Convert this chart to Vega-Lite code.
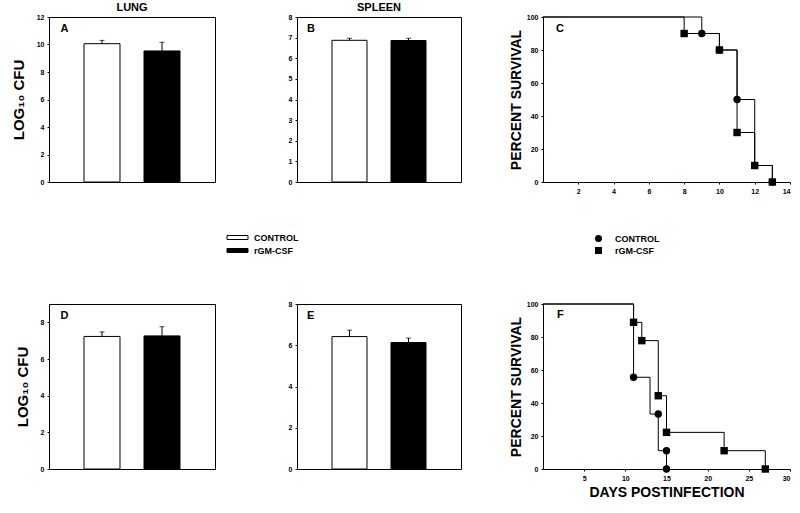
{
  "$schema": "https://vega.github.io/schema/vega-lite/v6.json",
  "background": "white",
  "padding": {"left": 10, "top": 1, "right": 5, "bottom": 5},
  "datasets": {
    "bars": [
      {"panel": "A", "group": "CONTROL", "value": 10.06, "upper": 10.3},
      {"panel": "A", "group": "rGM-CSF", "value": 9.53, "upper": 10.16},
      {"panel": "B", "group": "CONTROL", "value": 6.87, "upper": 6.97},
      {"panel": "B", "group": "rGM-CSF", "value": 6.86, "upper": 6.97},
      {"panel": "D", "group": "CONTROL", "value": 7.23, "upper": 7.48},
      {"panel": "D", "group": "rGM-CSF", "value": 7.26, "upper": 7.76},
      {"panel": "E", "group": "CONTROL", "value": 6.42, "upper": 6.73},
      {"panel": "E", "group": "rGM-CSF", "value": 6.13, "upper": 6.35}
    ],
    "lines": [
      {"panel": "C", "group": "CONTROL", "day": 0, "pct": 100},
      {"panel": "C", "group": "CONTROL", "day": 9, "pct": 90},
      {"panel": "C", "group": "CONTROL", "day": 10, "pct": 80},
      {"panel": "C", "group": "CONTROL", "day": 11, "pct": 50},
      {"panel": "C", "group": "CONTROL", "day": 12, "pct": 10},
      {"panel": "C", "group": "CONTROL", "day": 13, "pct": 0},
      {"panel": "C", "group": "rGM-CSF", "day": 0, "pct": 100},
      {"panel": "C", "group": "rGM-CSF", "day": 8, "pct": 90},
      {"panel": "C", "group": "rGM-CSF", "day": 10, "pct": 80},
      {"panel": "C", "group": "rGM-CSF", "day": 11, "pct": 30},
      {"panel": "C", "group": "rGM-CSF", "day": 12, "pct": 10},
      {"panel": "C", "group": "rGM-CSF", "day": 13, "pct": 0},
      {"panel": "F", "group": "CONTROL", "day": 0, "pct": 100},
      {"panel": "F", "group": "CONTROL", "day": 11, "pct": 55.6},
      {"panel": "F", "group": "CONTROL", "day": 13, "pct": 33.3},
      {"panel": "F", "group": "CONTROL", "day": 14, "pct": 11.1},
      {"panel": "F", "group": "CONTROL", "day": 15, "pct": 0},
      {"panel": "F", "group": "rGM-CSF", "day": 0, "pct": 100},
      {"panel": "F", "group": "rGM-CSF", "day": 11, "pct": 88.9},
      {"panel": "F", "group": "rGM-CSF", "day": 12, "pct": 77.8},
      {"panel": "F", "group": "rGM-CSF", "day": 14, "pct": 44.4},
      {"panel": "F", "group": "rGM-CSF", "day": 15, "pct": 22.2},
      {"panel": "F", "group": "rGM-CSF", "day": 22, "pct": 11.1},
      {"panel": "F", "group": "rGM-CSF", "day": 27, "pct": 0}
    ],
    "pts": [
      {"panel": "C", "group": "CONTROL", "day": 9, "pct": 90},
      {"panel": "C", "group": "CONTROL", "day": 10, "pct": 80},
      {"panel": "C", "group": "CONTROL", "day": 11, "pct": 50},
      {"panel": "C", "group": "CONTROL", "day": 12, "pct": 10},
      {"panel": "C", "group": "CONTROL", "day": 13, "pct": 0},
      {"panel": "C", "group": "rGM-CSF", "day": 8, "pct": 90},
      {"panel": "C", "group": "rGM-CSF", "day": 10, "pct": 80},
      {"panel": "C", "group": "rGM-CSF", "day": 11, "pct": 30},
      {"panel": "C", "group": "rGM-CSF", "day": 12, "pct": 10},
      {"panel": "C", "group": "rGM-CSF", "day": 13, "pct": 0},
      {"panel": "F", "group": "CONTROL", "day": 11, "pct": 55.6},
      {"panel": "F", "group": "CONTROL", "day": 14, "pct": 33.3},
      {"panel": "F", "group": "CONTROL", "day": 15, "pct": 11.1},
      {"panel": "F", "group": "CONTROL", "day": 15, "pct": 0},
      {"panel": "F", "group": "rGM-CSF", "day": 11, "pct": 88.9},
      {"panel": "F", "group": "rGM-CSF", "day": 12, "pct": 77.8},
      {"panel": "F", "group": "rGM-CSF", "day": 14, "pct": 44.4},
      {"panel": "F", "group": "rGM-CSF", "day": 15, "pct": 22.2},
      {"panel": "F", "group": "rGM-CSF", "day": 22, "pct": 11.1},
      {"panel": "F", "group": "rGM-CSF", "day": 27, "pct": 0}
    ]
  },
  "columns": 3,
  "spacing": {"row": 122, "column": 82},
  "bounds": "flush",
  "align": "each",
  "concat": [
    {
      "width": 166, "height": 165,
      "title": {"text": "LUNG", "fontSize": 11, "font": "Liberation Sans", "fontWeight": "bold", "offset": 0, "anchor": "middle", "color": "black"},
      "layer": [
        {
          "data": {"name": "bars"},
          "transform": [{"filter": "datum.panel === 'A'"}],
          "layer": [
            {"mark": {"type": "bar", "stroke": "black", "strokeWidth": 1},
             "encoding": {
               "x": {"field": "group", "type": "nominal", "scale": {"domain": ["CONTROL", "rGM-CSF"], "paddingInner": 0.4, "paddingOuter": 0.583}, "axis": null},
               "y": {"field": "value", "type": "quantitative", "title": "LOG₁₀ CFU", "scale": {"domain": [0, 12], "nice": false},
                     "axis": {"values": [0, 2, 4, 6, 8, 10, 12], "format": "d", "tickCount": 30, "labelOverlap": false, "titleFontSize": 15, "titleBaseline": "alphabetic", "titlePadding": 13}},
               "fill": {"field": "group", "type": "nominal", "scale": {"domain": ["CONTROL", "rGM-CSF"], "range": ["white", "black"]},
                        "legend": {"orient": "none", "legendX": 184, "legendY": 216, "title": null,
                                   "symbolType": "M-2.625,-0.5H2.625V0.5H-2.625Z", "symbolSize": 64,
                                   "symbolStrokeColor": "black", "symbolStrokeWidth": 1,
                                   "labelFont": "Liberation Sans", "labelFontWeight": "bold", "labelFontSize": 9, "labelColor": "black",
                                   "labelOffset": 12, "rowPadding": 3}}
             }},
            {"mark": {"type": "rule", "color": "black", "strokeWidth": 1},
             "encoding": {
               "x": {"field": "group", "type": "nominal", "scale": {"domain": ["CONTROL", "rGM-CSF"], "paddingInner": 0.4, "paddingOuter": 0.583}, "axis": null},
               "y": {"field": "value", "type": "quantitative", "title": "LOG₁₀ CFU"},
               "y2": {"field": "upper"}
             }},
            {"mark": {"type": "tick", "color": "black", "size": 5, "thickness": 1, "orient": "horizontal"},
             "encoding": {
               "x": {"field": "group", "type": "nominal", "scale": {"domain": ["CONTROL", "rGM-CSF"], "paddingInner": 0.4, "paddingOuter": 0.583}, "axis": null},
               "y": {"field": "upper", "type": "quantitative", "title": "LOG₁₀ CFU"}
             }}
          ]
        },
        {
          "data": {"values": [{"letter": "A"}]},
          "mark": {"type": "text", "align": "left", "baseline": "alphabetic", "fontSize": 11, "fontWeight": "bold", "font": "Liberation Sans", "color": "black"},
          "encoding": {
            "x": {"datum": 0.07, "type": "quantitative", "scale": {"domain": [0, 1]}, "axis": null},
            "y": {"datum": 10.9, "type": "quantitative", "title": "LOG₁₀ CFU"},
            "text": {"field": "letter"}
          }
        }
      ],
      "resolve": {"scale": {"x": "independent"}}
    },
    {
      "width": 164, "height": 165,
      "title": {"text": "SPLEEN", "fontSize": 11, "font": "Liberation Sans", "fontWeight": "bold", "offset": 0, "anchor": "middle", "color": "black"},
      "layer": [
        {
          "data": {"name": "bars"},
          "transform": [{"filter": "datum.panel === 'B'"}],
          "layer": [
            {"mark": {"type": "bar", "stroke": "black", "strokeWidth": 1},
             "encoding": {
               "x": {"field": "group", "type": "nominal", "scale": {"domain": ["CONTROL", "rGM-CSF"], "paddingInner": 0.407, "paddingOuter": 0.593}, "axis": null},
               "y": {"field": "value", "type": "quantitative", "title": null, "scale": {"domain": [0, 8], "nice": false},
                     "axis": {"values": [0, 1, 2, 3, 4, 5, 6, 7, 8], "format": "d", "tickCount": 30, "labelOverlap": false}},
               "fill": {"field": "group", "type": "nominal", "scale": {"domain": ["CONTROL", "rGM-CSF"], "range": ["white", "black"]}, "legend": null}
             }},
            {"mark": {"type": "rule", "color": "black", "strokeWidth": 1},
             "encoding": {
               "x": {"field": "group", "type": "nominal", "scale": {"domain": ["CONTROL", "rGM-CSF"], "paddingInner": 0.407, "paddingOuter": 0.593}, "axis": null},
               "y": {"field": "value", "type": "quantitative", "title": null},
               "y2": {"field": "upper"}
             }},
            {"mark": {"type": "tick", "color": "black", "size": 5, "thickness": 1, "orient": "horizontal"},
             "encoding": {
               "x": {"field": "group", "type": "nominal", "scale": {"domain": ["CONTROL", "rGM-CSF"], "paddingInner": 0.407, "paddingOuter": 0.593}, "axis": null},
               "y": {"field": "upper", "type": "quantitative", "title": null}
             }}
          ]
        },
        {
          "data": {"values": [{"letter": "B"}]},
          "mark": {"type": "text", "align": "left", "baseline": "alphabetic", "fontSize": 11, "fontWeight": "bold", "font": "Liberation Sans", "color": "black"},
          "encoding": {
            "x": {"datum": 0.061, "type": "quantitative", "scale": {"domain": [0, 1]}, "axis": null},
            "y": {"datum": 7.27, "type": "quantitative", "title": null},
            "text": {"field": "letter"}
          }
        }
      ],
      "resolve": {"scale": {"x": "independent"}}
    },
    {
      "width": 247, "height": 165,
      "view": {"stroke": null},
      "layer": [
        {
          "data": {"name": "lines"},
          "transform": [{"filter": "datum.panel === 'C'"}],
          "mark": {"type": "line", "interpolate": "step-after", "color": "black", "strokeWidth": 1},
          "encoding": {
            "x": {"field": "day", "type": "quantitative", "title": null, "scale": {"domain": [0, 14], "nice": false},
                  "axis": {"values": [2, 4, 6, 8, 10, 12, 14], "format": "d", "tickCount": 30, "labelOverlap": false}},
            "y": {"field": "pct", "type": "quantitative", "title": "PERCENT SURVIVAL", "scale": {"domain": [0, 100], "nice": false},
                  "axis": {"values": [0, 20, 40, 60, 80, 100], "format": "d", "tickCount": 30, "labelOverlap": false, "titleFontSize": 14, "titleBaseline": "alphabetic", "titlePadding": 6}},
            "detail": {"field": "group"}
          }
        },
        {
          "data": {"name": "pts"},
          "transform": [{"filter": "datum.panel === 'C'"}],
          "mark": {"type": "point", "filled": true, "color": "black", "size": 55, "opacity": 1},
          "encoding": {
            "x": {"field": "day", "type": "quantitative", "title": null},
            "y": {"field": "pct", "type": "quantitative", "title": "PERCENT SURVIVAL"},
            "shape": {"field": "group", "type": "nominal", "scale": {"domain": ["CONTROL", "rGM-CSF"], "range": ["circle", "square"]},
                      "legend": {"orient": "none", "legendX": 51, "legendY": 217, "title": null, "symbolSize": 49,
                                 "symbolFillColor": "black", "symbolStrokeColor": "black",
                                 "labelFont": "Liberation Sans", "labelFontWeight": "bold", "labelFontSize": 9, "labelColor": "black",
                                 "labelOffset": 12, "rowPadding": -1}}
          }
        },
        {
          "data": {"values": [{"letter": "C"}]},
          "mark": {"type": "text", "align": "left", "baseline": "alphabetic", "fontSize": 11, "fontWeight": "bold", "font": "Liberation Sans", "color": "black"},
          "encoding": {
            "x": {"datum": 0.74, "type": "quantitative"},
            "y": {"datum": 90.9, "type": "quantitative"},
            "text": {"field": "letter"}
          }
        }
      ]
    },
    {
      "width": 166, "height": 165,
      "layer": [
        {
          "data": {"name": "bars"},
          "transform": [{"filter": "datum.panel === 'D'"}],
          "layer": [
            {"mark": {"type": "bar", "stroke": "black", "strokeWidth": 1},
             "encoding": {
               "x": {"field": "group", "type": "nominal", "scale": {"domain": ["CONTROL", "rGM-CSF"], "paddingInner": 0.4, "paddingOuter": 0.583}, "axis": null},
               "y": {"field": "value", "type": "quantitative", "title": "LOG₁₀ CFU", "scale": {"domain": [0, 9], "nice": false},
                     "axis": {"values": [0, 2, 4, 6, 8], "format": "d", "tickCount": 30, "labelOverlap": false, "titleFontSize": 15, "titleBaseline": "alphabetic", "titlePadding": 13}},
               "fill": {"field": "group", "type": "nominal", "scale": {"domain": ["CONTROL", "rGM-CSF"], "range": ["white", "black"]}, "legend": null}
             }},
            {"mark": {"type": "rule", "color": "black", "strokeWidth": 1},
             "encoding": {
               "x": {"field": "group", "type": "nominal", "scale": {"domain": ["CONTROL", "rGM-CSF"], "paddingInner": 0.4, "paddingOuter": 0.583}, "axis": null},
               "y": {"field": "value", "type": "quantitative", "title": "LOG₁₀ CFU"},
               "y2": {"field": "upper"}
             }},
            {"mark": {"type": "tick", "color": "black", "size": 5, "thickness": 1, "orient": "horizontal"},
             "encoding": {
               "x": {"field": "group", "type": "nominal", "scale": {"domain": ["CONTROL", "rGM-CSF"], "paddingInner": 0.4, "paddingOuter": 0.583}, "axis": null},
               "y": {"field": "upper", "type": "quantitative", "title": "LOG₁₀ CFU"}
             }}
          ]
        },
        {
          "data": {"values": [{"letter": "D"}]},
          "mark": {"type": "text", "align": "left", "baseline": "alphabetic", "fontSize": 11, "fontWeight": "bold", "font": "Liberation Sans", "color": "black"},
          "encoding": {
            "x": {"datum": 0.07, "type": "quantitative", "scale": {"domain": [0, 1]}, "axis": null},
            "y": {"datum": 8.16, "type": "quantitative", "title": "LOG₁₀ CFU"},
            "text": {"field": "letter"}
          }
        }
      ],
      "resolve": {"scale": {"x": "independent"}}
    },
    {
      "width": 164, "height": 165,
      "layer": [
        {
          "data": {"name": "bars"},
          "transform": [{"filter": "datum.panel === 'E'"}],
          "layer": [
            {"mark": {"type": "bar", "stroke": "black", "strokeWidth": 1},
             "encoding": {
               "x": {"field": "group", "type": "nominal", "scale": {"domain": ["CONTROL", "rGM-CSF"], "paddingInner": 0.407, "paddingOuter": 0.593}, "axis": null},
               "y": {"field": "value", "type": "quantitative", "title": null, "scale": {"domain": [0, 8], "nice": false},
                     "axis": {"values": [0, 2, 4, 6, 8], "format": "d", "tickCount": 30, "labelOverlap": false}},
               "fill": {"field": "group", "type": "nominal", "scale": {"domain": ["CONTROL", "rGM-CSF"], "range": ["white", "black"]}, "legend": null}
             }},
            {"mark": {"type": "rule", "color": "black", "strokeWidth": 1},
             "encoding": {
               "x": {"field": "group", "type": "nominal", "scale": {"domain": ["CONTROL", "rGM-CSF"], "paddingInner": 0.407, "paddingOuter": 0.593}, "axis": null},
               "y": {"field": "value", "type": "quantitative", "title": null},
               "y2": {"field": "upper"}
             }},
            {"mark": {"type": "tick", "color": "black", "size": 5, "thickness": 1, "orient": "horizontal"},
             "encoding": {
               "x": {"field": "group", "type": "nominal", "scale": {"domain": ["CONTROL", "rGM-CSF"], "paddingInner": 0.407, "paddingOuter": 0.593}, "axis": null},
               "y": {"field": "upper", "type": "quantitative", "title": null}
             }}
          ]
        },
        {
          "data": {"values": [{"letter": "E"}]},
          "mark": {"type": "text", "align": "left", "baseline": "alphabetic", "fontSize": 11, "fontWeight": "bold", "font": "Liberation Sans", "color": "black"},
          "encoding": {
            "x": {"datum": 0.061, "type": "quantitative", "scale": {"domain": [0, 1]}, "axis": null},
            "y": {"datum": 7.25, "type": "quantitative", "title": null},
            "text": {"field": "letter"}
          }
        }
      ],
      "resolve": {"scale": {"x": "independent"}}
    },
    {
      "width": 247, "height": 165,
      "view": {"stroke": null},
      "layer": [
        {
          "data": {"name": "lines"},
          "transform": [{"filter": "datum.panel === 'F'"}],
          "mark": {"type": "line", "interpolate": "step-after", "color": "black", "strokeWidth": 1},
          "encoding": {
            "x": {"field": "day", "type": "quantitative", "title": "DAYS POSTINFECTION", "scale": {"domain": [0, 30], "nice": false},
                  "axis": {"values": [5, 10, 15, 20, 25, 30], "format": "d", "tickCount": 30, "labelOverlap": false, "titleFontSize": 14, "titlePadding": 4}},
            "y": {"field": "pct", "type": "quantitative", "title": "PERCENT SURVIVAL", "scale": {"domain": [0, 100], "nice": false},
                  "axis": {"values": [0, 20, 40, 60, 80, 100], "format": "d", "tickCount": 30, "labelOverlap": false, "titleFontSize": 14, "titleBaseline": "alphabetic", "titlePadding": 6}},
            "detail": {"field": "group"}
          }
        },
        {
          "data": {"name": "pts"},
          "transform": [{"filter": "datum.panel === 'F'"}],
          "mark": {"type": "point", "filled": true, "color": "black", "size": 55, "opacity": 1},
          "encoding": {
            "x": {"field": "day", "type": "quantitative", "title": "DAYS POSTINFECTION"},
            "y": {"field": "pct", "type": "quantitative", "title": "PERCENT SURVIVAL"},
            "shape": {"field": "group", "type": "nominal", "scale": {"domain": ["CONTROL", "rGM-CSF"], "range": ["circle", "square"]}, "legend": null}
          }
        },
        {
          "data": {"values": [{"letter": "F"}]},
          "mark": {"type": "text", "align": "left", "baseline": "alphabetic", "fontSize": 11, "fontWeight": "bold", "font": "Liberation Sans", "color": "black"},
          "encoding": {
            "x": {"datum": 1.7, "type": "quantitative"},
            "y": {"datum": 91.5, "type": "quantitative"},
            "text": {"field": "letter"}
          }
        }
      ]
    }
  ],
  "resolve": {
    "scale": {"x": "independent", "y": "independent", "fill": "independent", "shape": "independent"},
    "legend": {"fill": "independent", "shape": "independent"}
  },
  "config": {
    "font": "Liberation Sans",
    "view": {"stroke": "black", "strokeWidth": 1, "fill": "white"},
    "title": {"font": "Liberation Sans", "fontWeight": "bold", "color": "black"},
    "axis": {
      "domainColor": "black", "tickColor": "black", "labelColor": "black", "titleColor": "black",
      "labelFont": "Liberation Sans", "labelFontWeight": "bold", "labelFontSize": 7,
      "titleFont": "Liberation Sans", "titleFontWeight": "bold",
      "tickSize": 2, "labelPadding": 3, "grid": false, "labelOverlap": false
    },
    "legend": {"labelColor": "black"}
  }
}
